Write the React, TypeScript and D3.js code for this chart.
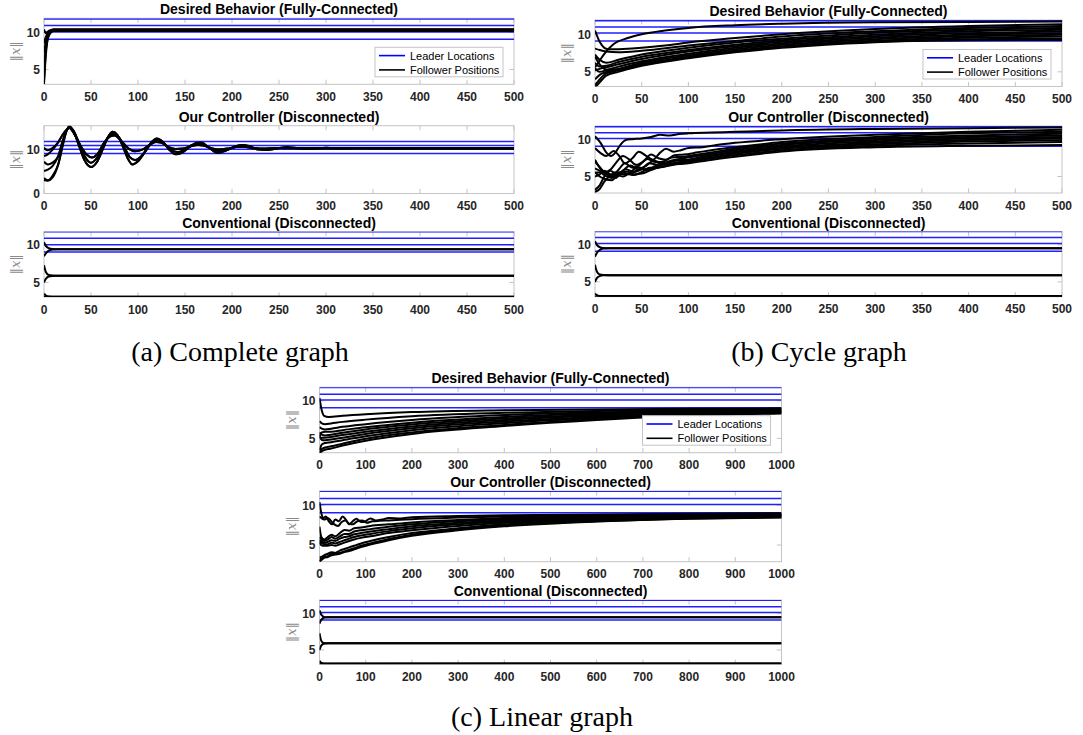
import React from "react";
import * as d3 from "d3";

type Pt = [number, number];

// ---------- tick labels ----------
const timeTicks500 = [0, 50, 100, 150, 200, 250, 300, 350, 400, 450, 500];
const timeTicks1000 = [0, 100, 200, 300, 400, 500, 600, 700, 800, 900, 1000];
const normTicks = [5, 10];
const normTicksWide = [0, 10];

// ---------- subplot titles / captions ----------
const rowTitles = [
  "Desired Behavior (Fully-Connected)",
  "Our Controller (Disconnected)",
  "Conventional (Disconnected)",
];
const captions = ["(a) Complete graph", "(b) Cycle graph", "(c) Linear graph"];
const legendLabels = ["Leader Locations", "Follower Positions"];

// ---------- leader norms (constant over time) ----------
const leadersComplete = [11.8, 10.92, 10.06, 9.08];
const leadersCycle = [11.8, 10.98, 10.18, 9.12];
const leadersLinear = [11.78, 10.87, 10.1, 9.07];

// ---------- (a) complete graph ----------
const completeDesired: Pt[][] = [
  [[0, 10.4], [2, 9.9], [5, 10.2], [10, 10.4], [500, 10.4]],
  [[0, 8.5], [2, 9.4], [5, 10.1], [10, 10.4], [500, 10.4]],
  [[0, 7.2], [2, 8.8], [5, 9.9], [10, 10.2], [500, 10.2]],
  [[0, 5.1], [2, 8.0], [5, 9.7], [10, 10.2], [500, 10.2]],
  [[0, 3.5], [2, 7.5], [5, 9.6], [10, 10.35], [500, 10.4]],
  [[0, 3.0], [2, 7.0], [5, 9.5], [10, 10.2], [500, 10.2]],
];

const ctrlHighTail: Pt[] = [
  [15, 11.6], [20, 13.4], [24, 14.5], [27, 14.9], [32, 13.6], [39, 10.8], [45, 8.9], [51, 8.2],
  [57, 9.0], [63, 11.2], [70, 12.9], [75, 13.2], [82, 12.0], [90, 10.2], [97, 9.6], [104, 9.9],
  [112, 11.0], [119, 11.7], [125, 11.5], [132, 10.6], [140, 10.1], [148, 10.2], [157, 10.8],
  [164, 11.0], [170, 10.9], [178, 10.3], [186, 10.0], [195, 10.2], [205, 10.55], [212, 10.6],
  [222, 10.3], [232, 10.2], [250, 10.35], [280, 10.25], [320, 10.35], [400, 10.3], [500, 10.3],
];
const ctrlMidTail: Pt[] = [
  [15, 8.4], [20, 12.0], [24, 14.3], [27, 15.0], [31, 14.4], [37, 11.6], [43, 8.6], [50, 7.0],
  [57, 8.3], [64, 11.3], [69, 13.0], [74, 13.6], [80, 12.7], [86, 10.3], [92, 8.1], [97, 7.6],
  [104, 8.6], [111, 10.6], [117, 11.9], [122, 12.1], [128, 11.3], [135, 9.9], [142, 9.4],
  [150, 10.0], [158, 11.0], [165, 11.2], [172, 10.8], [180, 9.9], [188, 9.6], [196, 10.0],
  [206, 10.7], [214, 10.8], [224, 10.3], [234, 10.05], [248, 10.25], [260, 10.4], [280, 10.2],
  [300, 10.3], [350, 10.2], [400, 10.25], [500, 10.2],
];
const ctrlLowTail: Pt[] = [
  [15, 6.5], [20, 11.0], [24, 14.2], [27, 15.25], [31, 14.3], [37, 11.0], [43, 7.6], [50, 6.0],
  [57, 7.4], [63, 10.3], [68, 12.8], [73, 14.0], [78, 13.3], [84, 10.6], [90, 7.6], [94, 6.6],
  [100, 7.3], [108, 9.6], [115, 11.8], [120, 12.5], [126, 11.8], [133, 10.0], [140, 8.9],
  [147, 9.3], [155, 10.6], [163, 11.5], [168, 11.5], [175, 10.5], [185, 9.2], [193, 9.7],
  [202, 10.6], [210, 11.0], [218, 10.8], [228, 10.0], [237, 9.9], [247, 10.2], [258, 10.5],
  [270, 10.35], [285, 10.15], [300, 10.4], [318, 10.2], [340, 10.35], [370, 10.3], [400, 10.25],
  [450, 10.3], [500, 10.3],
];
const completeController: Pt[][] = [
  [[0, 10.4], [4, 9.8], [9, 10.3], ...ctrlHighTail],
  [[0, 8.5], [4, 8.9], [9, 9.9], ...ctrlHighTail],
  [[0, 7.2], [4, 6.6], [9, 7.0], ...ctrlMidTail],
  [[0, 5.1], [4, 5.4], [9, 6.2], ...ctrlMidTail],
  [[0, 3.5], [4, 3.0], [9, 4.0], ...ctrlLowTail],
  [[0, 3.0], [4, 2.9], [9, 3.6], ...ctrlLowTail],
];

const completeConventional: Pt[][] = [
  [[0, 10.4], [2, 9.9], [5, 9.6], [9, 9.48], [15, 9.45], [500, 9.45]],
  [[0, 8.5], [2, 8.9], [5, 9.25], [9, 9.4], [15, 9.45], [500, 9.45]],
  [[0, 7.3], [2, 6.4], [5, 6.0], [9, 5.92], [15, 5.9], [500, 5.9]],
  [[0, 5.0], [2, 5.5], [5, 5.8], [9, 5.88], [15, 5.9], [500, 5.9]],
  [[0, 3.5], [2, 3.25], [5, 3.12], [9, 3.1], [500, 3.1]],
  [[0, 3.05], [4, 3.08], [500, 3.1]],
];

// ---------- (b) cycle graph ----------
const cycleDesired: Pt[][] = [
  [[0, 5.6], [5, 6.5], [10, 7.4], [20, 8.7], [35, 9.5], [50, 10.0], [75, 10.5], [100, 10.85], [150, 11.2], [200, 11.4], [300, 11.6], [400, 11.65], [500, 11.7]],
  [[0, 10.5], [5, 9.0], [10, 8.2], [15, 8.0], [30, 8.05], [50, 8.2], [75, 8.5], [100, 8.9], [150, 9.5], [200, 10.0], [300, 10.7], [400, 11.1], [500, 11.35]],
  [[0, 8.1], [5, 7.9], [12, 7.7], [25, 7.6], [50, 7.8], [100, 8.5], [150, 9.1], [200, 9.7], [300, 10.4], [400, 10.85], [500, 11.1]],
  [[0, 7.3], [5, 6.6], [12, 6.2], [25, 6.6], [50, 7.3], [100, 8.2], [150, 8.9], [200, 9.4], [300, 10.2], [400, 10.6], [500, 10.85]],
  [[0, 6.2], [5, 5.7], [12, 5.8], [25, 6.3], [50, 7.0], [100, 7.9], [150, 8.6], [200, 9.2], [300, 9.95], [400, 10.4], [500, 10.6]],
  [[0, 5.2], [5, 5.4], [12, 5.6], [25, 6.0], [50, 6.7], [100, 7.7], [150, 8.4], [200, 9.0], [300, 9.75], [400, 10.15], [500, 10.4]],
  [[0, 5.5], [5, 5.0], [12, 5.2], [25, 5.7], [50, 6.4], [100, 7.4], [150, 8.2], [200, 8.8], [300, 9.55], [400, 9.95], [500, 10.15]],
  [[0, 4.0], [5, 4.6], [12, 5.0], [25, 5.4], [50, 6.2], [100, 7.2], [150, 8.0], [200, 8.6], [300, 9.35], [400, 9.75], [500, 9.95]],
  [[0, 3.2], [5, 4.0], [12, 4.8], [25, 5.2], [50, 6.0], [100, 7.0], [150, 7.8], [200, 8.4], [300, 9.15], [400, 9.55], [500, 9.7]],
  [[0, 2.9], [5, 3.6], [12, 4.5], [25, 5.0], [50, 5.8], [100, 6.8], [150, 7.6], [200, 8.2], [300, 8.95], [400, 9.35], [500, 9.45]],
  [[0, 7.0], [5, 6.0], [12, 5.3], [25, 5.3], [50, 5.9], [100, 6.9], [150, 7.7], [200, 8.3], [300, 9.0], [400, 9.2], [500, 9.25]],
];

const cycleController: Pt[][] = [
  [[0, 10.5], [6, 9.6], [12, 8.3], [17, 7.8], [22, 8.3], [27, 9.3], [33, 10.0], [40, 10.1], [50, 10.2], [60, 10.4], [70, 10.7], [80, 10.6], [90, 10.8], [100, 10.9], [125, 11.0], [150, 11.1], [200, 11.3], [300, 11.5], [400, 11.6], [500, 11.7]],
  [[0, 8.9], [6, 8.2], [12, 7.8], [20, 8.5], [26, 7.8], [32, 6.8], [40, 7.5], [47, 8.4], [54, 7.9], [62, 7.3], [70, 8.3], [76, 8.8], [84, 8.4], [92, 8.6], [100, 8.9], [115, 9.0], [130, 9.3], [150, 9.6], [200, 10.1], [300, 10.7], [400, 11.1], [500, 11.4]],
  [[0, 7.3], [5, 6.2], [10, 5.6], [17, 6.0], [22, 6.8], [30, 7.8], [37, 7.3], [44, 6.6], [52, 7.1], [60, 8.0], [68, 7.5], [76, 7.3], [85, 7.9], [95, 8.0], [110, 8.3], [130, 8.7], [150, 9.0], [200, 9.7], [300, 10.4], [400, 10.9], [500, 11.1]],
  [[0, 6.1], [5, 5.8], [10, 5.5], [18, 5.0], [25, 5.9], [32, 6.8], [40, 6.2], [48, 6.6], [56, 7.4], [64, 7.0], [72, 7.0], [82, 7.6], [95, 7.7], [110, 8.0], [130, 8.4], [150, 8.8], [200, 9.5], [300, 10.2], [400, 10.6], [500, 10.85]],
  [[0, 5.0], [5, 5.3], [10, 5.8], [16, 5.3], [22, 4.8], [30, 5.8], [38, 6.5], [46, 6.0], [55, 6.5], [63, 7.2], [72, 6.8], [82, 7.2], [95, 7.5], [110, 7.8], [130, 8.2], [150, 8.6], [200, 9.3], [300, 10.0], [400, 10.4], [500, 10.6]],
  [[0, 5.6], [5, 5.0], [10, 4.7], [18, 4.5], [25, 5.3], [33, 6.0], [42, 5.6], [50, 6.0], [58, 6.8], [67, 6.6], [76, 6.8], [88, 7.2], [100, 7.3], [120, 7.8], [150, 8.4], [200, 9.1], [300, 9.8], [400, 10.2], [500, 10.4]],
  [[0, 3.2], [5, 3.8], [10, 5.0], [16, 5.8], [22, 5.4], [30, 5.0], [38, 5.6], [46, 6.3], [55, 5.9], [64, 6.4], [72, 6.9], [82, 6.8], [95, 7.1], [110, 7.5], [130, 7.9], [150, 8.3], [200, 8.9], [300, 9.6], [400, 10.0], [500, 10.2]],
  [[0, 2.9], [5, 3.3], [10, 4.3], [16, 5.1], [22, 5.6], [28, 5.3], [36, 5.3], [44, 5.8], [52, 6.0], [60, 6.1], [70, 6.5], [80, 6.7], [95, 6.9], [110, 7.3], [130, 7.7], [150, 8.1], [200, 8.8], [300, 9.4], [400, 9.8], [500, 9.95]],
  [[0, 5.5], [5, 5.6], [10, 5.2], [18, 4.8], [26, 5.6], [34, 5.4], [42, 5.2], [50, 5.6], [58, 6.2], [66, 6.2], [76, 6.4], [88, 6.9], [100, 7.0], [120, 7.4], [150, 7.9], [200, 8.6], [300, 9.2], [400, 9.5], [500, 9.7]],
  [[0, 7.0], [5, 6.3], [10, 5.6], [18, 5.2], [26, 5.4], [34, 5.7], [42, 5.3], [50, 5.4], [60, 5.9], [70, 6.3], [80, 6.5], [90, 6.7], [100, 6.8], [120, 7.2], [150, 7.7], [200, 8.4], [300, 9.0], [400, 9.2], [500, 9.3]],
];

const cycleConventional: Pt[][] = [
  [[0, 10.5], [2, 10.0], [5, 9.7], [9, 9.58], [15, 9.55], [500, 9.55]],
  [[0, 8.4], [2, 8.9], [5, 9.3], [9, 9.5], [15, 9.55], [500, 9.55]],
  [[0, 7.3], [2, 6.4], [5, 6.0], [9, 5.92], [15, 5.9], [500, 5.9]],
  [[0, 5.0], [2, 5.5], [5, 5.78], [9, 5.88], [15, 5.9], [500, 5.9]],
  [[0, 3.4], [2, 3.2], [5, 3.1], [9, 3.08], [500, 3.08]],
  [[0, 3.0], [3, 3.04], [500, 3.08]],
];

// ---------- (c) linear graph ----------
const linearDesired: Pt[][] = [
  [[0, 10.4], [5, 8.7], [10, 8.0], [20, 7.85], [50, 8.0], [100, 8.2], [200, 8.5], [400, 8.75], [600, 8.85], [800, 8.95], [1000, 9.0]],
  [[0, 7.3], [5, 7.0], [12, 6.9], [25, 7.0], [50, 7.2], [100, 7.5], [200, 7.95], [400, 8.4], [600, 8.65], [800, 8.8], [1000, 8.9]],
  [[0, 6.5], [5, 6.3], [12, 6.2], [25, 6.3], [50, 6.55], [100, 6.9], [200, 7.45], [400, 8.1], [600, 8.45], [800, 8.7], [1000, 8.82]],
  [[0, 5.3], [5, 5.8], [12, 5.9], [25, 5.9], [50, 6.1], [100, 6.5], [200, 7.1], [400, 7.85], [600, 8.3], [800, 8.6], [1000, 8.75]],
  [[0, 5.8], [5, 5.5], [12, 5.4], [25, 5.5], [50, 5.75], [100, 6.2], [200, 6.85], [400, 7.65], [600, 8.15], [800, 8.5], [1000, 8.68]],
  [[0, 5.0], [5, 5.1], [12, 5.1], [25, 5.2], [50, 5.45], [100, 5.9], [200, 6.6], [400, 7.45], [600, 8.0], [800, 8.4], [1000, 8.6]],
  [[0, 5.4], [5, 4.8], [12, 4.75], [25, 4.85], [50, 5.1], [100, 5.6], [200, 6.35], [400, 7.25], [600, 7.85], [800, 8.3], [1000, 8.52]],
  [[0, 3.4], [5, 4.2], [12, 4.4], [25, 4.5], [50, 4.75], [100, 5.3], [200, 6.1], [400, 7.05], [600, 7.7], [800, 8.2], [1000, 8.45]],
  [[0, 3.0], [5, 3.6], [12, 3.8], [25, 3.95], [50, 4.3], [100, 4.95], [200, 5.8], [400, 6.8], [600, 7.55], [800, 8.1], [1000, 8.38]],
  [[0, 2.9], [5, 3.3], [12, 3.5], [25, 3.65], [50, 4.05], [100, 4.7], [200, 5.6], [400, 6.65], [600, 7.45], [800, 8.05], [1000, 8.32]],
];

const linearController: Pt[][] = [
  [[0, 10.4], [4, 9.0], [8, 8.4], [14, 8.6], [20, 8.0], [27, 7.6], [34, 8.2], [42, 8.0], [50, 8.6], [58, 8.1], [64, 7.6], [72, 8.0], [80, 8.3], [90, 7.9], [100, 8.0], [110, 8.35], [122, 8.1], [135, 8.2], [150, 8.4], [175, 8.35], [200, 8.5], [300, 8.65], [400, 8.75], [600, 8.85], [800, 8.95], [1000, 9.0]],
  [[0, 8.6], [4, 8.4], [10, 8.2], [18, 8.4], [24, 8.1], [32, 7.6], [40, 7.4], [48, 7.9], [56, 8.1], [64, 7.7], [72, 7.6], [82, 8.0], [92, 8.1], [102, 7.8], [115, 8.0], [130, 8.05], [150, 8.1], [200, 8.25], [300, 8.45], [400, 8.6], [600, 8.75], [800, 8.85], [1000, 8.92]],
  [[0, 7.3], [4, 6.0], [10, 5.7], [18, 6.0], [26, 6.3], [34, 6.1], [44, 6.5], [54, 6.9], [64, 6.8], [75, 7.1], [90, 7.2], [110, 7.4], [150, 7.6], [200, 7.85], [300, 8.15], [400, 8.4], [600, 8.6], [800, 8.75], [1000, 8.85]],
  [[0, 6.0], [4, 5.8], [10, 5.5], [18, 5.7], [26, 6.0], [34, 5.8], [44, 6.1], [54, 6.4], [64, 6.4], [75, 6.7], [90, 6.85], [110, 7.0], [150, 7.3], [200, 7.6], [300, 8.0], [400, 8.25], [600, 8.5], [800, 8.7], [1000, 8.8]],
  [[0, 5.7], [4, 5.5], [10, 5.3], [18, 5.4], [26, 5.6], [34, 5.5], [44, 5.8], [54, 6.0], [64, 6.1], [75, 6.35], [90, 6.5], [110, 6.7], [150, 7.0], [200, 7.35], [300, 7.8], [400, 8.1], [600, 8.4], [800, 8.62], [1000, 8.75]],
  [[0, 5.5], [4, 5.3], [10, 5.1], [18, 5.1], [26, 5.3], [34, 5.2], [44, 5.4], [54, 5.6], [64, 5.8], [75, 6.0], [90, 6.2], [110, 6.4], [150, 6.75], [200, 7.1], [300, 7.6], [400, 7.95], [600, 8.3], [800, 8.55], [1000, 8.68]],
  [[0, 5.3], [4, 5.0], [10, 4.9], [18, 4.9], [26, 5.0], [34, 4.9], [44, 5.1], [54, 5.3], [64, 5.5], [75, 5.7], [90, 5.9], [110, 6.1], [150, 6.5], [200, 6.85], [300, 7.4], [400, 7.8], [600, 8.2], [800, 8.5], [1000, 8.62]],
  [[0, 3.4], [4, 3.5], [10, 3.7], [18, 3.9], [26, 4.1], [34, 4.0], [44, 4.3], [54, 4.5], [64, 4.7], [75, 4.9], [90, 5.2], [110, 5.5], [150, 6.0], [200, 6.5], [300, 7.1], [400, 7.6], [600, 8.1], [800, 8.4], [1000, 8.55]],
  [[0, 3.0], [4, 3.3], [10, 3.5], [18, 3.6], [26, 3.9], [34, 3.9], [44, 4.0], [54, 4.2], [64, 4.4], [75, 4.6], [90, 4.9], [110, 5.2], [150, 5.75], [200, 6.3], [300, 6.95], [400, 7.45], [600, 8.0], [800, 8.35], [1000, 8.5]],
  [[0, 2.9], [4, 3.1], [10, 3.4], [18, 3.5], [26, 3.7], [34, 3.8], [44, 3.9], [54, 4.1], [64, 4.25], [75, 4.45], [90, 4.75], [110, 5.05], [150, 5.6], [200, 6.15], [300, 6.85], [400, 7.35], [600, 7.95], [800, 8.3], [1000, 8.45]],
];

const linearConventional: Pt[][] = [
  [[0, 10.4], [3, 9.9], [7, 9.6], [12, 9.47], [20, 9.45], [1000, 9.45]],
  [[0, 8.6], [3, 9.0], [7, 9.3], [12, 9.42], [20, 9.45], [1000, 9.45]],
  [[0, 7.3], [3, 6.4], [7, 6.0], [12, 5.92], [20, 5.9], [1000, 5.9]],
  [[0, 5.0], [3, 5.5], [7, 5.78], [12, 5.87], [20, 5.9], [1000, 5.9]],
  [[0, 3.5], [3, 3.3], [7, 3.2], [12, 3.16], [1000, 3.16]],
  [[0, 3.1], [5, 3.14], [1000, 3.16]],
];

// ---------- drawing ----------
const SANS = "'Liberation Sans', Arial, Helvetica, sans-serif";
const SERIF = "'Liberation Serif', 'Times New Roman', serif";
const AXIS_GREY = "#c4c4c4";
const LEADER_BLUE = "#1f1fff";

interface SubplotProps {
  id: string;
  l: number;
  r: number;
  t: number;
  b: number;
  tMax: number;
  yDomain: [number, number];
  xTicks: number[];
  yTicks: number[];
  title: string;
  leaders: number[];
  followers: Pt[][];
  legend?: boolean;
}

function Subplot(p: SubplotProps) {
  const { id, l, r, t, b, tMax, yDomain, xTicks, yTicks, title, leaders, followers, legend } = p;
  const x = d3.scaleLinear().domain([0, tMax]).range([l, r]);
  const y = d3.scaleLinear().domain(yDomain).range([b, t]);
  const line = d3
    .line<Pt>()
    .x((d) => x(d[0]))
    .y((d) => y(d[1]))
    .curve(d3.curveMonotoneX);
  const tick = 4.6;

  const lw = 128;
  const lh = 29.5;
  const lx = r - 11 - lw;
  const ly = b - 7.5 - lh;

  return (
    <g>
      <defs>
        <clipPath id={id}>
          <rect x={l} y={t} width={r - l} height={b - t} />
        </clipPath>
      </defs>
      <text x={(l + r) / 2} y={t - 4} textAnchor="middle" fontFamily={SANS} fontWeight="bold" fontSize={14} fill="#000">
        {title}
      </text>

      {/* tick marks inside the box on all four sides */}
      {xTicks.map((v) => (
        <g key={"xt" + v}>
          <line x1={x(v)} x2={x(v)} y1={b} y2={b - tick} stroke={AXIS_GREY} />
          <line x1={x(v)} x2={x(v)} y1={t} y2={t + tick} stroke={AXIS_GREY} />
        </g>
      ))}
      {yTicks.map((v) => (
        <g key={"yt" + v}>
          <line x1={l} x2={l + tick} y1={y(v)} y2={y(v)} stroke={AXIS_GREY} />
          <line x1={r} x2={r - tick} y1={y(v)} y2={y(v)} stroke={AXIS_GREY} />
        </g>
      ))}
      <rect x={l} y={t} width={r - l} height={b - t} fill="none" stroke={AXIS_GREY} />

      <g clipPath={`url(#${id})`}>
        {leaders.map((v, i) => (
          <line key={"ld" + i} x1={x(0)} x2={x(tMax)} y1={y(v)} y2={y(v)} stroke={LEADER_BLUE} strokeWidth={1.5} />
        ))}
        {followers.map((f, i) => (
          <path key={"fl" + i} d={line(f) ?? ""} fill="none" stroke="#000" strokeWidth={2} strokeLinejoin="round" />
        ))}
      </g>

      {xTicks.map((v) => (
        <text key={"xl" + v} x={x(v)} y={b + 16.5} textAnchor="middle" fontFamily={SANS} fontWeight="bold" fontSize={12} fill="#262626">
          {v}
        </text>
      ))}
      {yTicks.map((v) => (
        <text key={"yl" + v} x={l - 4} y={y(v) + 4.3} textAnchor="end" fontFamily={SANS} fontWeight="bold" fontSize={12} fill="#262626">
          {v}
        </text>
      ))}

      <text
        transform={`translate(${l - 24},${(t + b) / 2}) rotate(-90)`}
        textAnchor="middle"
        fontFamily="'DejaVu Serif', serif"
        fontSize={13}
        fill="#8a8a8a"
      >
        ‖<tspan fontStyle="italic">x</tspan>‖
      </text>

      {legend && (
        <g>
          <rect x={lx} y={ly} width={lw} height={lh} fill="#fff" stroke={AXIS_GREY} />
          <line x1={lx + 4} x2={lx + 30} y1={ly + 8.3} y2={ly + 8.3} stroke="#0000ff" strokeWidth={1.6} />
          <line x1={lx + 4} x2={lx + 30} y1={ly + 22.6} y2={ly + 22.6} stroke="#000" strokeWidth={1.6} />
          <text x={lx + 35} y={ly + 12.2} fontFamily={SANS} fontSize={11} fill="#000">
            {legendLabels[0]}
          </text>
          <text x={lx + 35} y={ly + 26.5} fontFamily={SANS} fontSize={11} fill="#000">
            {legendLabels[1]}
          </text>
        </g>
      )}
    </g>
  );
}

export default function App() {
  const aX = { l: 44, r: 514 };
  const bX = { l: 595, r: 1062 };
  const cX = { l: 319.5, r: 781.5 };

  return (
    <svg width={1083} height={735} style={{ position: "absolute", left: 0, top: 0, background: "#fff" }}>
      <rect x={0} y={0} width={1083} height={735} fill="#fff" />

      {/* (a) complete graph */}
      <Subplot id="a1" {...aX} t={18.3} b={84.3} tMax={500} yDomain={[3.0, 11.9]} xTicks={timeTicks500} yTicks={normTicks}
        title={rowTitles[0]} leaders={leadersComplete} followers={completeDesired} legend />
      <Subplot id="a2" {...aX} t={125.7} b={193.5} tMax={500} yDomain={[0, 15.4]} xTicks={timeTicks500} yTicks={normTicksWide}
        title={rowTitles[1]} leaders={leadersComplete} followers={completeController} />
      <Subplot id="a3" {...aX} t={231.7} b={297} tMax={500} yDomain={[3.05, 11.8]} xTicks={timeTicks500} yTicks={normTicks}
        title={rowTitles[2]} leaders={leadersComplete} followers={completeConventional} />

      {/* (b) cycle graph */}
      <Subplot id="b1" {...bX} t={20} b={86.5} tMax={500} yDomain={[3.05, 11.9]} xTicks={timeTicks500} yTicks={normTicks}
        title={rowTitles[0]} leaders={leadersCycle} followers={cycleDesired} legend />
      <Subplot id="b2" {...bX} t={126} b={193} tMax={500} yDomain={[2.75, 11.9]} xTicks={timeTicks500} yTicks={normTicks}
        title={rowTitles[1]} leaders={leadersCycle} followers={cycleController} />
      <Subplot id="b3" {...bX} t={231.5} b={296.7} tMax={500} yDomain={[3.0, 11.8]} xTicks={timeTicks500} yTicks={normTicks}
        title={rowTitles[2]} leaders={leadersCycle} followers={cycleConventional} />

      {/* (c) linear graph */}
      <Subplot id="c1" {...cX} t={387.3} b={452.7} tMax={1000} yDomain={[3.1, 11.8]} xTicks={timeTicks1000} yTicks={normTicks}
        title={rowTitles[0]} leaders={leadersLinear} followers={linearDesired} legend />
      <Subplot id="c2" {...cX} t={491} b={561.7} tMax={1000} yDomain={[2.9, 11.8]} xTicks={timeTicks1000} yTicks={normTicks}
        title={rowTitles[1]} leaders={leadersLinear} followers={linearController} />
      <Subplot id="c3" {...cX} t={600} b={664.3} tMax={1000} yDomain={[3.05, 11.8]} xTicks={timeTicks1000} yTicks={normTicks}
        title={rowTitles[2]} leaders={leadersLinear} followers={linearConventional} />

      <text x={240} y={361} textAnchor="middle" fontFamily={SERIF} fontSize={28} fill="#000">{captions[0]}</text>
      <text x={819} y={361} textAnchor="middle" fontFamily={SERIF} fontSize={28} fill="#000">{captions[1]}</text>
      <text x={542} y={726} textAnchor="middle" fontFamily={SERIF} fontSize={28} fill="#000">{captions[2]}</text>
    </svg>
  );
}
